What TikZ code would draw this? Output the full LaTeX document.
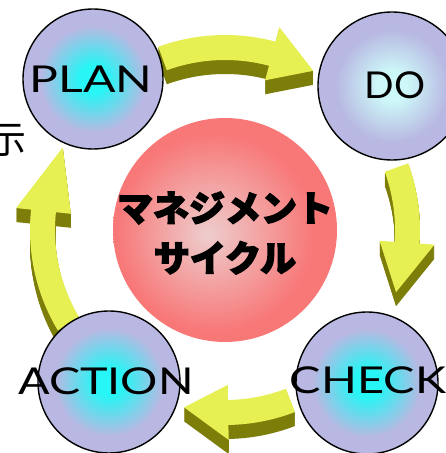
\documentclass[tikz,border=0pt]{standalone}
\usepackage{fontspec}
\newfontfamily\tagfont{Lato}
\newfontfamily\cjkfont{Noto Sans CJK JP}[BoldFeatures={FakeBold=3.5}]
\usetikzlibrary{calc}

\definecolor{ballrim}{RGB}{184,184,226}
\definecolor{ballcore}{RGB}{40,245,245}
\definecolor{palecore}{RGB}{205,248,248}
\definecolor{redrim}{RGB}{248,120,120}
\definecolor{redcore}{RGB}{238,205,205}
\definecolor{arrowtop}{RGB}{230,240,82}
\definecolor{arrowside}{RGB}{125,125,10}

\pgfdeclareradialshading{cyanball}{\pgfpoint{0bp}{0bp}}{color(0bp)=(ballcore); color(5bp)=(ballcore); color(19bp)=(ballrim); color(50bp)=(ballrim)}
\pgfdeclareradialshading{paleball}{\pgfpoint{0bp}{0bp}}{color(0bp)=(palecore); color(5bp)=(palecore); color(19bp)=(ballrim); color(50bp)=(ballrim)}
\pgfdeclareradialshading{redball}{\pgfpoint{-4bp}{-1bp}}{color(0bp)=(redcore); color(22bp)=(redrim); color(50bp)=(redrim)}

% block arrow round the core: tail angle, head angle, tip angle
\newcommand{\cyclearrow}[3]{%
  \foreach \d in {14,13,...,1}
    \fill[arrowside, yshift=-\d pt] (#1:195) arc[start angle=#1, end angle=#2, radius=195]
      -- (#2:210) -- (#3:182) -- (#2:155) -- (#2:170)
      arc[start angle=#2, end angle=#1, radius=170] -- cycle;
  \fill[arrowtop] (#1:195) arc[start angle=#1, end angle=#2, radius=195]
      -- (#2:210) -- (#3:182) -- (#2:155) -- (#2:170)
      arc[start angle=#2, end angle=#1, radius=170] -- cycle;
}

\begin{document}
\begin{tikzpicture}
[x=1pt, y=1pt,
ball/.style={circle, draw, line width=1.4pt, inner sep=0pt},
tag/.style={font=\tagfont\fontsize{37}{37}\selectfont, transform shape}]
\useasboundingbox (0,0) rectangle (446,453);
\clip (0,0) rectangle (446,453);

\node (core) at (225,223)[circle, minimum size=224pt, shading=redball] {};

\begin{scope}[shift={(core.center)}]
\cyclearrow{110}{75}{61}
\cyclearrow{20}{-4}{-20}
\cyclearrow{-69}{-89}{-103}
\cyclearrow{211}{174}{153}
\end{scope}

\node (plan) at (93,374)[ball, minimum size=140pt, shading=cyanball] {};
\node (do) at (392,367)[ball, minimum size=148pt, shading=paleball] {};
\node (check) at (367,70)[ball, minimum size=142pt, shading=cyanball] {};
\node (action) at (109,71)[ball, minimum size=142pt, shading=cyanball] {};

\node (plantag) at (91,374)[tag, xscale=1.3] {PLAN};
\node (dotag) at (395,368)[tag, xscale=1.05] {DO};
\node (checktag) at (368,73)[tag, xscale=1.27] {CHECK};
\node (actiontag) at (106,72)[tag, xscale=1.26] {ACTION};

\node (title) at (225,220)[align=center, font=\cjkfont\bfseries\fontsize{36}{50}\selectfont] {マネジメント\\サイクル};
\node (cut) at (8,313)[font=\cjkfont\fontsize{38}{38}\selectfont] {示};

\end{tikzpicture}
\end{document}
